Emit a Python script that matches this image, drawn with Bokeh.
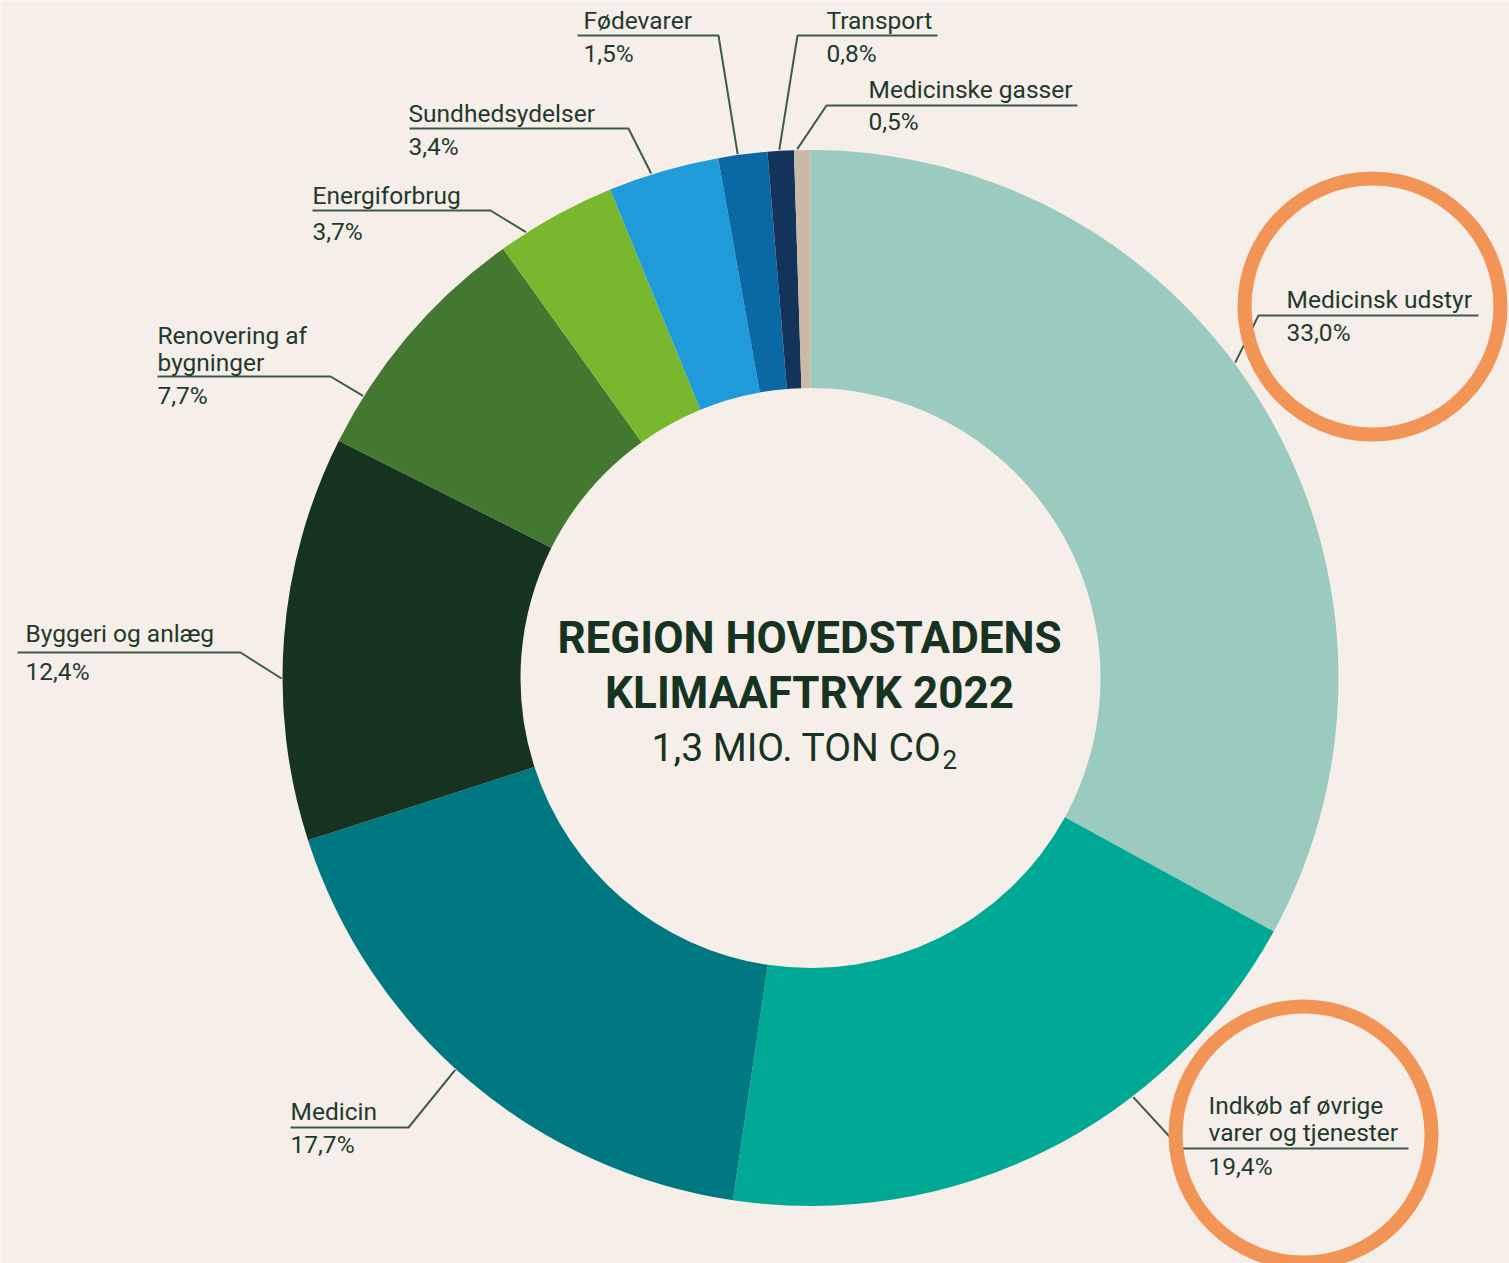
import math
from bokeh.plotting import figure
from bokeh.models import Range1d, ColumnDataSource
from bokeh.core.properties import value
from bokeh.embed import file_html
from bokeh.resources import INLINE

# ---- data ----
categories = ["Medicinsk udstyr", "Indkøb af øvrige varer og tjenester", "Medicin",
              "Byggeri og anlæg", "Renovering af bygninger", "Energiforbrug",
              "Sundhedsydelser", "Fødevarer", "Transport", "Medicinske gasser"]
shares = [33.0, 19.4, 17.7, 12.4, 7.7, 3.7, 3.4, 1.5, 0.8, 0.5]
label_lines = [["Medicinsk udstyr"], ["Indkøb af øvrige", "varer og tjenester"], ["Medicin"],
               ["Byggeri og anlæg"], ["Renovering af", "bygninger"], ["Energiforbrug"],
               ["Sundhedsydelser"], ["Fødevarer"], ["Transport"], ["Medicinske gasser"]]
colors = ["#9bcbbe", "#00a995", "#007882", "#163322", "#437831", "#79b72f",
          "#1e9bd8", "#0a69a4", "#14335a", "#cbb9a8"]

W, H = 1509, 1263
BG = "#f6eee8"
TXT = "#1f3a2c"
LINE = "#3e5a4b"
FONT = "Roboto"

CX, CY = 810, 677.5
R_OUT, R_IN = 528, 290

def Y(ypix):
    return H - ypix

p = figure(width=W, height=H, x_range=Range1d(0, W), y_range=Range1d(0, H),
           output_backend="svg", toolbar_location=None, min_border=0,
           background_fill_color=BG, border_fill_color=BG)
p.axis.visible = False
p.grid.visible = False
p.outline_line_color = None

total = sum(shares)
starts, ends = [], []
acc = 0.0
for v in shares:
    starts.append(acc / total * 2 * math.pi)
    acc += v
    ends.append(acc / total * 2 * math.pi)

src = ColumnDataSource(dict(
    x=[CX] * len(shares), y=[Y(CY)] * len(shares),
    start=[math.pi / 2 - s for s in starts],
    end=[math.pi / 2 - e for e in ends],
    color=colors))
p.annular_wedge(x="x", y="y", inner_radius=R_IN, outer_radius=R_OUT,
                start_angle="start", end_angle="end", direction="clock",
                fill_color="color", line_color=None, source=src)

# ---- label layout (pixel coords) ----
layout = [
    dict(tx=1286, ty=299, uy=315, ux0=1258, ux1=1478, elbow="left", frac=0.45, py=332),
    dict(tx=1208, ty=1105, uy=1148, ux0=1180, ux1=1408, elbow="left", frac=0.34, py=1166),
    dict(tx=290, ty=1111, uy=1127, ux0=290, ux1=408, elbow="right", frac=0.53, py=1144),
    dict(tx=25, ty=633, uy=652, ux0=17, ux1=240, elbow="right", frac=0.40, py=671),
    dict(tx=157, ty=335, uy=376, ux0=157, ux1=330, elbow="right", frac=0.20, py=395),
    dict(tx=312, ty=195, uy=210, ux0=312, ux1=490, elbow="right", frac=0.23, py=231),
    dict(tx=408, ty=113, uy=128, ux0=409, ux1=628, elbow="right", frac=0.39, py=146),
    dict(tx=583, ty=20, uy=35, ux0=577, ux1=718, elbow="right", frac=0.40, py=53),
    dict(tx=826, ty=20, uy=35, ux0=797, ux1=937, elbow="left", frac=0.45, py=53),
    dict(tx=868, ty=89, uy=105, ux0=826, ux1=1077, elbow="left", frac=0.20, py=121),
]

tx, ty, txt = [], [], []
lx, ly = [], []
for i, L in enumerate(layout):
    for k, line in enumerate(label_lines[i]):
        tx.append(L["tx"]); ty.append(Y(L["ty"] + 27 * k)); txt.append(line)
    pct = f"{shares[i]:.1f}".replace(".", ",") + "%"
    tx.append(L["tx"]); ty.append(Y(L["py"])); txt.append(pct)
    theta = starts[i] + L["frac"] * (ends[i] - starts[i])
    ex = CX + (R_OUT + 1) * math.sin(theta)
    ey = CY - (R_OUT + 1) * math.cos(theta)
    elbow_x = L["ux0"] if L["elbow"] == "left" else L["ux1"]
    other_x = L["ux1"] if L["elbow"] == "left" else L["ux0"]
    lx.append([other_x, elbow_x, ex])
    ly.append([Y(L["uy"]), Y(L["uy"]), Y(ey)])

p.multi_line(xs=lx, ys=ly, line_color=LINE, line_width=2)
p.text(x=tx, y=ty, text=txt, text_font=value(FONT), text_font_size="24.5px",
       text_color=TXT, text_baseline="middle", text_align="left")

# ---- centre title ----
p.text(x=[CX - 1, CX - 1], y=[Y(637), Y(692)], text=["REGION HOVEDSTADENS", "KLIMAAFTRYK 2022"],
       text_font=value(FONT), text_font_size="44px", text_font_style="bold",
       text_color="#163322", text_align="center", text_baseline="middle")
p.text(x=[941], y=[Y(747)], text=["1,3 MIO. TON CO"], text_font=value(FONT),
       text_font_size="39px", text_color="#163322", text_align="right", text_baseline="middle")
p.text(x=[942], y=[Y(759)], text=["2"], text_font=value(FONT),
       text_font_size="26px", text_color="#163322", text_align="left", text_baseline="middle")

# ---- highlight circles ----
p.annulus(x=[1372, 1303], y=[Y(306), Y(1134)], inner_radius=121, outer_radius=135,
          fill_color="#f29455", line_color=None)

open("out.html", "w").write(file_html(p, INLINE))
